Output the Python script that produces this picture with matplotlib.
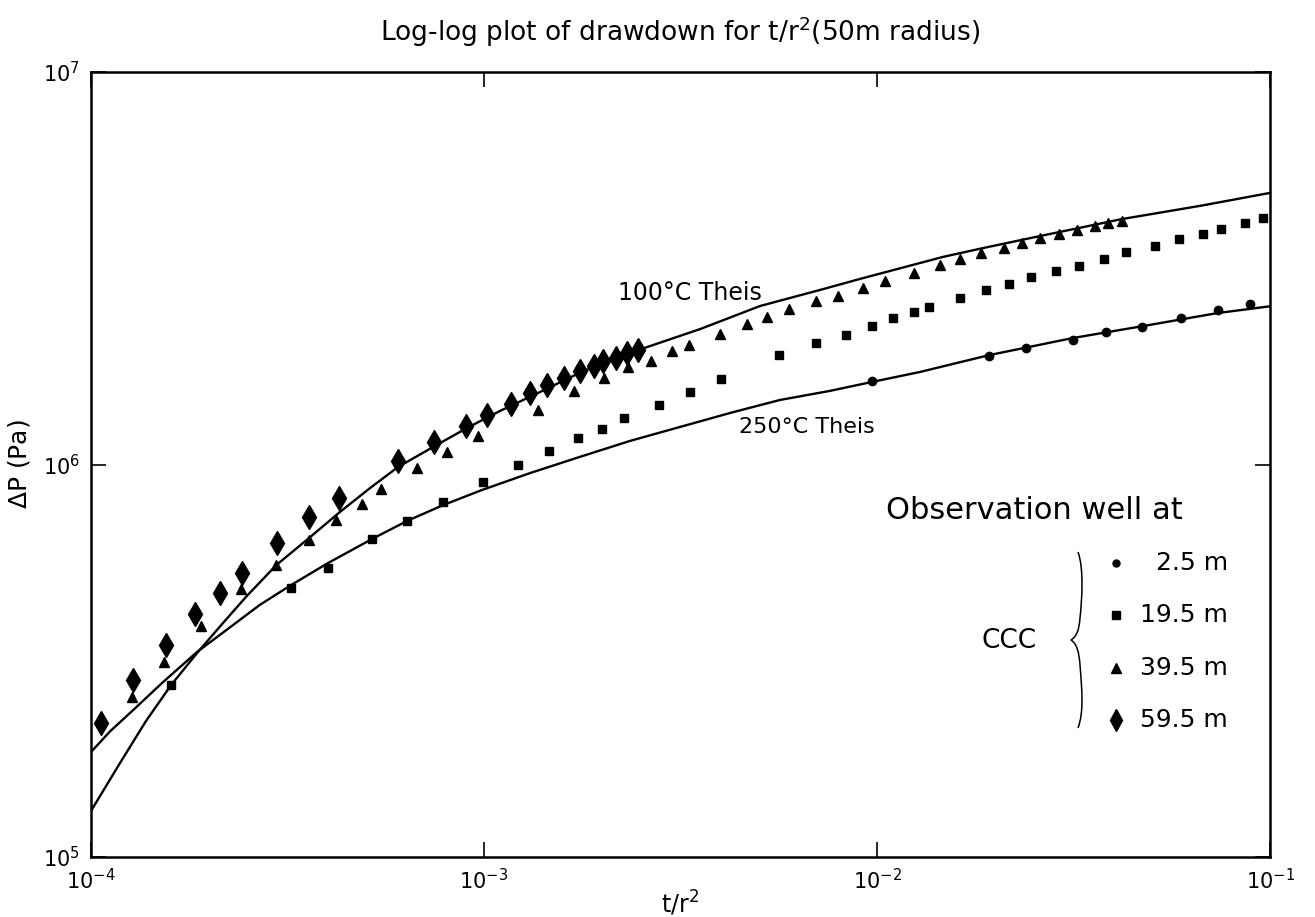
import matplotlib.pyplot as plt
from matplotlib.path import Path
from matplotlib.patches import PathPatch

# Drawdown observed at the CCC observation wells (t/r^2 in s/m^2, dP in Pa)
t_well_2p5 = [9.71e-3, 1.93e-2, 2.40e-2, 3.15e-2, 3.83e-2, 4.73e-2, 5.93e-2, 7.37e-2, 8.89e-2]
dp_well_2p5 = [1.63e6, 1.89e6, 1.98e6, 2.08e6, 2.17e6, 2.24e6, 2.36e6, 2.47e6, 2.56e6]

t_well_19p5 = [1.60e-4, 3.22e-4, 4.02e-4, 5.20e-4, 6.36e-4, 7.88e-4, 9.93e-4, 1.22e-3,
               1.46e-3, 1.73e-3, 2.00e-3, 2.27e-3, 2.79e-3, 3.34e-3, 4.02e-3, 5.64e-3,
               7.00e-3, 8.34e-3, 9.69e-3, 1.10e-2, 1.24e-2, 1.36e-2, 1.63e-2, 1.89e-2,
               2.17e-2, 2.47e-2, 2.85e-2, 3.27e-2, 3.78e-2, 4.30e-2, 5.09e-2, 5.88e-2,
               6.74e-2, 7.52e-2, 8.62e-2, 9.62e-2]
dp_well_19p5 = [2.75e5, 4.84e5, 5.46e5, 6.47e5, 7.19e5, 8.01e5, 9.04e5, 9.97e5,
                1.08e6, 1.17e6, 1.23e6, 1.31e6, 1.42e6, 1.53e6, 1.65e6, 1.90e6,
                2.04e6, 2.14e6, 2.26e6, 2.36e6, 2.44e6, 2.52e6, 2.66e6, 2.78e6,
                2.88e6, 3.00e6, 3.12e6, 3.20e6, 3.34e6, 3.47e6, 3.60e6, 3.75e6,
                3.86e6, 3.97e6, 4.12e6, 4.25e6]

t_well_39p5 = [1.27e-4, 1.53e-4, 1.91e-4, 2.41e-4, 2.96e-4, 3.58e-4, 4.20e-4, 4.88e-4,
               5.48e-4, 6.76e-4, 8.07e-4, 9.67e-4, 1.37e-3, 1.69e-3, 2.02e-3, 2.33e-3,
               2.66e-3, 3.00e-3, 3.32e-3, 3.98e-3, 4.66e-3, 5.26e-3, 5.98e-3, 7.00e-3,
               7.97e-3, 9.20e-3, 1.05e-2, 1.24e-2, 1.45e-2, 1.63e-2, 1.84e-2, 2.10e-2,
               2.34e-2, 2.60e-2, 2.91e-2, 3.22e-2, 3.59e-2, 3.88e-2, 4.20e-2]
dp_well_39p5 = [2.56e5, 3.13e5, 3.88e5, 4.82e5, 5.56e5, 6.44e5, 7.20e5, 7.91e5,
                8.64e5, 9.80e5, 1.076e6, 1.18e6, 1.38e6, 1.54e6, 1.66e6, 1.77e6,
                1.84e6, 1.95e6, 2.01e6, 2.15e6, 2.28e6, 2.38e6, 2.49e6, 2.61e6,
                2.69e6, 2.81e6, 2.93e6, 3.08e6, 3.22e6, 3.33e6, 3.46e6, 3.57e6,
                3.66e6, 3.78e6, 3.87e6, 3.96e6, 4.05e6, 4.12e6, 4.17e6]

t_well_59p5 = [1.06e-4, 1.28e-4, 1.55e-4, 1.84e-4, 2.13e-4, 2.42e-4, 2.97e-4, 3.59e-4,
               4.28e-4, 6.04e-4, 7.47e-4, 8.98e-4, 1.02e-3, 1.17e-3, 1.31e-3, 1.45e-3,
               1.60e-3, 1.75e-3, 1.90e-3, 2.01e-3, 2.17e-3, 2.31e-3, 2.47e-3]
dp_well_59p5 = [2.20e5, 2.82e5, 3.47e5, 4.16e5, 4.71e5, 5.29e5, 6.30e5, 7.33e5,
                8.23e5, 1.022e6, 1.143e6, 1.253e6, 1.34e6, 1.43e6, 1.52e6, 1.59e6,
                1.66e6, 1.73e6, 1.78e6, 1.83e6, 1.87e6, 1.92e6, 1.96e6]

# Theis type curves
t_theis_100 = [1.0e-4, 1.185e-4, 1.38e-4, 1.598e-4, 1.862e-4, 2.155e-4, 2.48e-4, 2.96e-4,
               3.59e-4, 4.30e-4, 5.13e-4, 6.04e-4, 7.42e-4, 9.05e-4, 1.098e-3, 1.388e-3,
               1.75e-3, 2.09e-3, 2.47e-3, 3.55e-3, 5.04e-3, 7.16e-3, 9.05e-3, 1.472e-2,
               1.862e-2, 2.60e-2, 4.20e-2, 6.64e-2, 1.0e-1]
dp_theis_100 = [1.31e5, 1.735e5, 2.22e5, 2.74e5, 3.31e5, 3.92e5, 4.60e5, 5.54e5,
                6.50e5, 7.57e5, 8.71e5, 9.85e5, 1.108e6, 1.239e6, 1.369e6, 1.53e6,
                1.711e6, 1.846e6, 1.957e6, 2.214e6, 2.534e6, 2.784e6, 2.97e6, 3.38e6,
                3.56e6, 3.82e6, 4.22e6, 4.56e6, 4.92e6]

t_theis_250 = [1.0e-4, 1.118e-4, 1.264e-4, 1.525e-4, 1.862e-4, 2.26e-4, 2.69e-4, 3.23e-4,
               4.01e-4, 5.19e-4, 6.37e-4, 7.87e-4, 9.88e-4, 1.31e-3, 1.75e-3, 2.35e-3,
               3.15e-3, 4.23e-3, 5.66e-3, 7.59e-3, 9.71e-3, 1.287e-2, 1.93e-2, 3.15e-2,
               4.72e-2, 7.33e-2, 1.0e-1]
dp_theis_250 = [1.851e5, 2.09e5, 2.34e5, 2.79e5, 3.33e5, 3.85e5, 4.39e5, 4.93e5,
                5.61e5, 6.46e5, 7.18e5, 7.88e5, 8.61e5, 9.51e5, 1.045e6, 1.148e6,
                1.246e6, 1.353e6, 1.46e6, 1.54e6, 1.623e6, 1.721e6, 1.90e6, 2.10e6,
                2.25e6, 2.43e6, 2.53e6]

well_labels = ['2.5 m', '19.5 m', '39.5 m', '59.5 m']
well_markers = ['o', 's', '^', 'd']

plt.rcParams['font.family'] = ['DejaVu Sans']
plt.rcParams['mathtext.fontset'] = 'dejavusans'

W, H = 1315, 917
fig = plt.figure(figsize=(W / 100, H / 100), dpi=100)
ax = fig.add_axes([91 / W, 60 / H, 1179 / W, 785 / H])

ax.plot(t_theis_100, dp_theis_100, color='black', lw=1.7)
ax.plot(t_theis_250, dp_theis_250, color='black', lw=1.7)

ax.plot(t_well_2p5, dp_well_2p5, 'o', color='black', ms=6, ls='none')
ax.plot(t_well_19p5, dp_well_19p5, 's', color='black', ms=6, ls='none')
ax.plot(t_well_39p5, dp_well_39p5, '^', color='black', ms=7, ls='none')
ax.plot(t_well_59p5, dp_well_59p5, 'd', color='black', ms=12, ls='none')

ax.set_xscale('log')
ax.set_yscale('log')
ax.set_xlim(1e-4, 1e-1)
ax.set_ylim(1e5, 1e7)
ax.minorticks_off()
ax.tick_params(which='major', direction='in', length=11, width=1.2,
               top=True, right=True, labelsize=15, pad=8)
for s in ax.spines.values():
    s.set_linewidth(1.8)
ax.get_xticklabels()[0].set_horizontalalignment('left')

ax.set_xlabel('t/r$^2$', fontsize=17, labelpad=-3)
ax.set_ylabel(r'$\Delta$P (Pa)', fontsize=18, labelpad=8)
fig.text(680 / W, 0.965, 'Log-log plot of drawdown for t/r$^2$(50m radius)',
         ha='center', va='center', fontsize=19)

# curve labels
ax.text(0.508, 0.7185, '100°C Theis', transform=ax.transAxes,
        ha='center', va='center', fontsize=17)
ax.text(0.607, 0.548, '250°C Theis', transform=ax.transAxes,
        ha='center', va='center', fontsize=16)

# key
ax.text(0.800, 0.442, 'Observation well at', transform=ax.transAxes,
        ha='center', va='center', fontsize=22)
ax.text(0.779, 0.275, 'CCC', transform=ax.transAxes,
        ha='center', va='center', fontsize=19)
key_rows = [0.3745, 0.308, 0.241, 0.1745]
key_ms = [5, 6, 6.5, 11]
for lab, mk, yy, ms in zip(well_labels, well_markers, key_rows, key_ms):
    ax.plot([0.869], [yy], mk, color='black', ms=ms, transform=ax.transAxes,
            clip_on=False)
    ax.text(0.9644, yy, lab, transform=ax.transAxes, ha='right', va='center',
            fontsize=18)

# curly brace grouping the CCC wells (figure pixel coords -> fraction)
brace_px = [(1078, 552), (1084, 568), (1082, 600), (1080, 618),
            (1079, 630), (1077, 636), (1071, 640),
            (1077, 644), (1079, 652), (1080, 665),
            (1082, 690), (1084, 712), (1078, 728)]
verts = [(x / W, 1 - y / H) for x, y in brace_px]
codes = [Path.MOVETO] + [Path.CURVE4] * 12
fig.add_artist(PathPatch(Path(verts, codes), transform=fig.transFigure,
                         fill=False, lw=1.1, color='black'))

fig.savefig('out.png', dpi=100)
